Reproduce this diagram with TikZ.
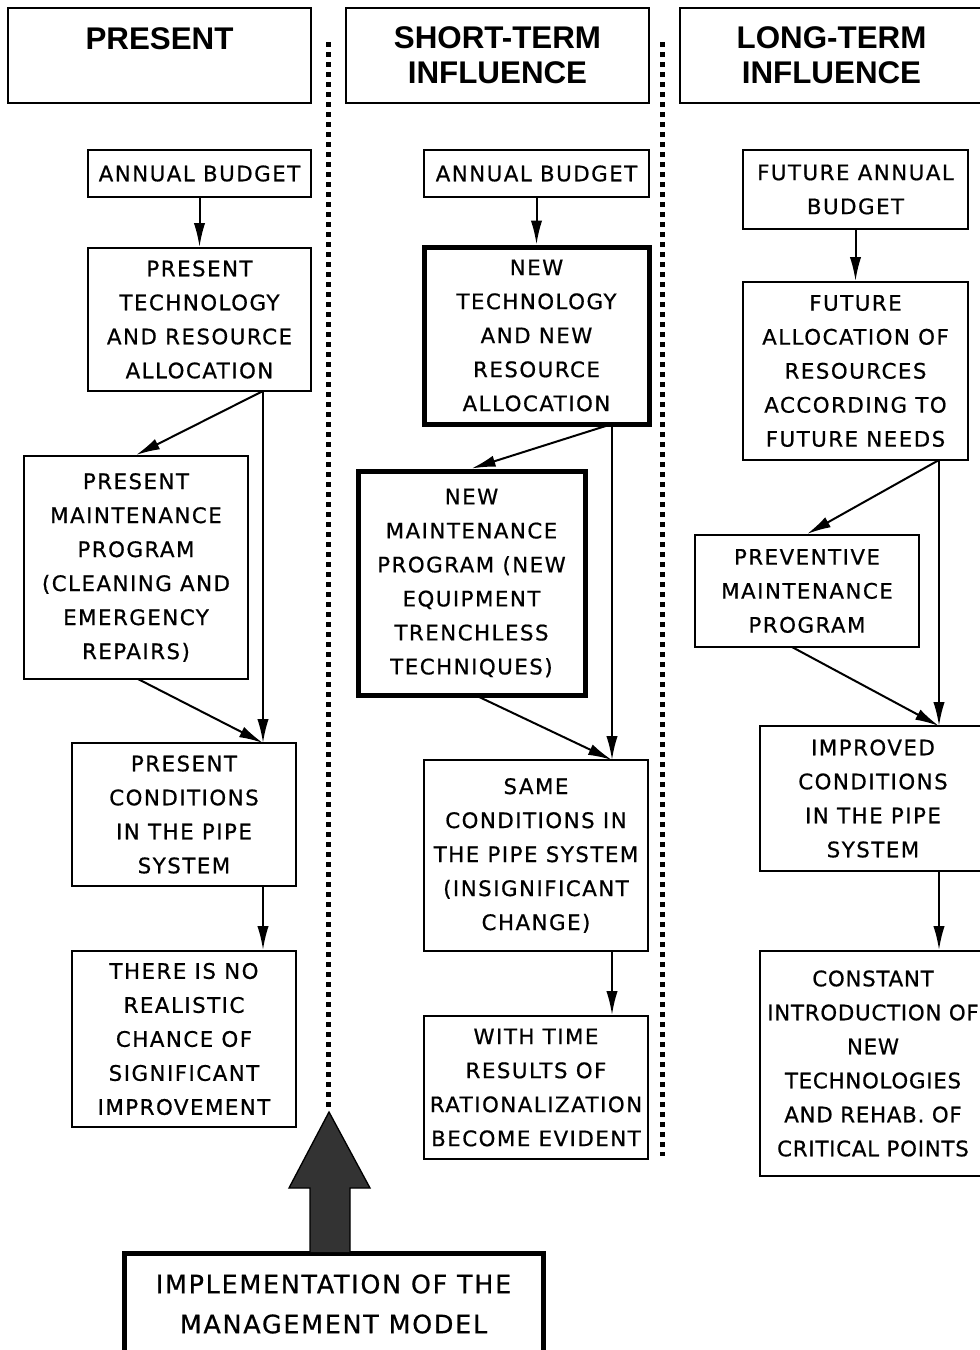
\documentclass[tikz,border=0pt]{standalone}
\usepackage{fontspec}
\setmainfont{DejaVu Sans}
\newfontfamily\boxfont{DejaVu Sans}[LetterSpace=7.0, FakeBold=0.7]
\newfontfamily\tightfont{DejaVu Sans}[LetterSpace=3.5, FakeBold=0.7]
\newfontfamily\headfont{Liberation Sans}
\usetikzlibrary{arrows.meta}

\tikzset{
  wh/.style 2 args={minimum width=#1*0.75pt, minimum height=#2*0.75pt},
  stepbox/.style={draw, line width=1.5pt, inner sep=0pt, align=center,
    font=\boxfont\fontsize{16}{25.5}\selectfont},
  newbox/.style={stepbox, line width=3.75pt},
  headbox/.style={draw, line width=1.5pt, inner sep=0pt, align=center, wh={303}{95},
    font=\headfont\bfseries\fontsize{23.5}{26}\selectfont},
  flow/.style={-{Latex[length=18pt,width=8.5pt]}, line width=1.5pt},
  divider/.style={line width=3.75pt, dash pattern=on 3.75pt off 3.75pt}
}

\begin{document}
\begin{tikzpicture}[x=0.75pt,y=-0.75pt]
  \path[use as bounding box, fill=white] (0,0) rectangle (980,1350);

  % column headers
  \node[headbox] (hA) at (159.5,55.5) {PRESENT\\ \phantom{X}};
  \node[headbox] (hB) at (497.5,55.5) {SHORT-TERM\\INFLUENCE};
  \node[headbox] (hC) at (831.5,55.5) {LONG-TERM\\INFLUENCE};

  % dotted dividers
  \coordinate (d1top) at (328,42);
  \coordinate (d1bot) at (328,1112);
  \coordinate (d2top) at (662,42);
  \coordinate (d2bot) at (662,1156);
  \draw[divider] (d1top) -- (d1bot);
  \draw[divider] (d2top) -- (d2bot);

  % present
  \node[stepbox, wh={223}{47}] (bA) at (199.5,173.5) {ANNUAL BUDGET};
  \node[stepbox, wh={223}{143}] (tA) at (199.5,319.5) {PRESENT\\TECHNOLOGY\\AND RESOURCE\\ALLOCATION};
  \node[stepbox, wh={224}{223}] (mA) at (136,567.5) {PRESENT\\MAINTENANCE\\PROGRAM\\(CLEANING AND\\EMERGENCY\\REPAIRS)};
  \node[stepbox, wh={224}{143}] (cA) at (184,814.5) {PRESENT\\CONDITIONS\\IN THE PIPE\\SYSTEM};
  \node[stepbox, wh={224}{176}] (rA) at (184,1039) {THERE IS NO\\REALISTIC\\CHANCE OF\\SIGNIFICANT\\IMPROVEMENT};

  % short-term
  \node[stepbox, wh={225}{47}] (bB) at (536.5,173.5) {ANNUAL BUDGET};
  \node[newbox, wh={225}{177}] (tB) at (536.5,335.5) {NEW\\TECHNOLOGY\\AND NEW\\RESOURCE\\ALLOCATION};
  \node[newbox, wh={227}{224}] (mB) at (471.5,583) {NEW\\MAINTENANCE\\PROGRAM (NEW\\EQUIPMENT\\TRENCHLESS\\TECHNIQUES)};
  \node[stepbox, wh={224}{191}] (cB) at (536,855.5) {SAME\\CONDITIONS IN\\THE PIPE SYSTEM\\(INSIGNIFICANT\\CHANGE)};
  \node[stepbox, wh={224}{143}] (wB) at (536,1087.5) {WITH TIME\\RESULTS OF\\RATIONALIZATION\\BECOME EVIDENT};

  % long-term
  \node[stepbox, wh={225}{79}] (bC) at (855.5,189.5) {FUTURE ANNUAL\\BUDGET};
  \node[stepbox, wh={225}{178}] (fC) at (855.5,371) {FUTURE\\ALLOCATION OF\\RESOURCES\\ACCORDING TO\\FUTURE NEEDS};
  \node[stepbox, wh={224}{112}] (pC) at (807,591) {PREVENTIVE\\MAINTENANCE\\PROGRAM};
  \node[stepbox, wh={226}{145}] (iC) at (873,798.5) {IMPROVED\\CONDITIONS\\IN THE PIPE\\SYSTEM};
  \node[stepbox, wh={226}{225}, font=\tightfont\fontsize{16}{25.5}\selectfont] (kC) at (873,1063.5) {CONSTANT\\INTRODUCTION OF\\NEW\\TECHNOLOGIES\\AND REHAB. OF\\CRITICAL POINTS};

  % bottom
  \node[newbox, wh={419}{102}, font=\boxfont\fontsize{19}{30}\selectfont] (impl) at (333.5,1304) {IMPLEMENTATION OF THE\\MANAGEMENT MODEL};

  % connector ends
  \coordinate (tAout) at (263,391);
  \coordinate (cAin) at (263,743);
  \coordinate (mAout) at (138,679);
  \coordinate (tBout) at (612,424);
  \coordinate (cBin) at (612,760);
  \coordinate (mBout) at (475,695);
  \coordinate (fCout) at (939,460);
  \coordinate (iCin) at (939,726);
  \coordinate (pCout) at (792,647);

  \draw[flow] (bA) -- (tA);
  \draw[flow] (tAout) -- (mA.north);
  \draw[flow] (tAout) -- (cAin);
  \draw[flow] (mAout) -- (cAin);
  \draw[flow] (cAin |- cA.south) -- (cAin |- rA.north);

  \draw[flow] (bB) -- (tB);
  \draw[flow] (tBout) -- (mB.north);
  \draw[flow] (tBout) -- (cBin);
  \draw[flow] (mBout) -- (cBin);
  \draw[flow] (cBin |- cB.south) -- (cBin |- wB.north);

  \draw[flow] (bC) -- (fC);
  \draw[flow] (fCout) -- (pC.north);
  \draw[flow] (fCout) -- (iCin);
  \draw[flow] (pCout) -- (iCin);
  \draw[flow] (iCin |- iC.south) -- (iCin |- kC.north);

  % big arrow up from the model
  \filldraw[fill=black!80, line width=1pt] (310,1252) -- (310,1188) -- (289,1188) -- (329,1112)
    -- (370,1188) -- (350,1188) -- (350,1252);
\end{tikzpicture}
\end{document}
